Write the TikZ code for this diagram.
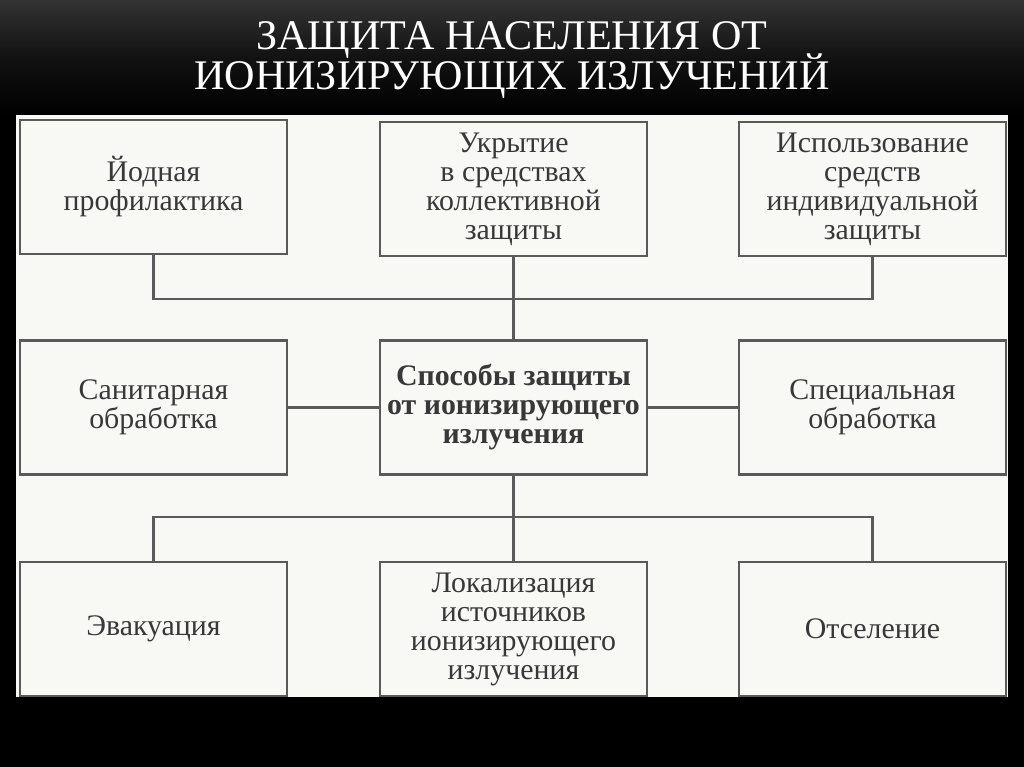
\documentclass[tikz,border=0pt]{standalone}
\usepackage{fontspec}
\setmainfont{Liberation Serif}
\usetikzlibrary{positioning,calc}

\definecolor{panelbg}{HTML}{F8F8F5}
\definecolor{boxline}{HTML}{5A5A5A}
\definecolor{boxtext}{HTML}{383838}
\newcommand\tightlines{\lineskiplimit=-100pt\relax}

\begin{document}
\begin{tikzpicture}[x=0.02cm, y=-0.02cm,
  way/.style={rectangle, draw=boxline, line width=1.3pt, fill=panelbg,
              minimum width=5.34cm, minimum height=2.68cm, align=center,
              text=boxtext, font=\fontsize{17}{16.5}\selectfont\tightlines},
  hub/.style={way, font=\fontsize{17}{16.5}\selectfont\tightlines\bfseries},
  link/.style={draw=boxline, line width=1.3pt}
]
  % background and white panel
  \useasboundingbox (0,0) rectangle (1024,767);
  \shade[top color=black!80, bottom color=black, middle color=black!93] (0,0) rectangle (1024,115);
  \fill[black] (0,115) rectangle (1024,767);
  \fill[panelbg] (16,115) rectangle (1008,697);

  % title
  \node[text=white, font=\fontsize{24}{22.7}\selectfont\tightlines,
        align=center] (title) at (512,60)
    {ЗАЩИТА НАСЕЛЕНИЯ ОТ\\ИОНИЗИРУЮЩИХ ИЗЛУЧЕНИЙ};

  % top row
  \node[way] (yod) at (153.5,187) {Йодная\\профилактика};
  \node[way] (ukr) at (513.5,189) {Укрытие\\в средствах\\коллективной\\защиты};
  \node[way] (siz) at (872.5,189) {Использование\\средств\\индивидуальной\\защиты};

  % middle row
  \node[hub] (sposob) at (513.5,407.5) {Способы защиты\\от ионизирующего\\излучения};
  \node[way] (sanit) at (153.5,407.5) {Санитарная\\обработка};
  \node[way] (spec) at (872.5,407.5) {Специальная\\обработка};

  % bottom row
  \node[way] (evak) at (153.5,629) {Эвакуация};
  \node[way] (lokal) at (513.5,629) {Локализация\\источников\\ионизирующего\\излучения};
  \node[way] (otsel) at (872.5,629) {Отселение};

  \coordinate (topbus) at (513.5,299);
  \coordinate (lowbus) at (513.5,517);

  \draw[link] (yod.south) |- (topbus) -| (siz.south);
  \draw[link] (ukr.south) -- (sposob.north);
  \draw[link] (sanit) -- (sposob);
  \draw[link] (sposob) -- (spec);
  \draw[link] (evak.north) |- (lowbus) -| (otsel.north);
  \draw[link] (sposob.south) -- (lokal.north);
\end{tikzpicture}
\end{document}
